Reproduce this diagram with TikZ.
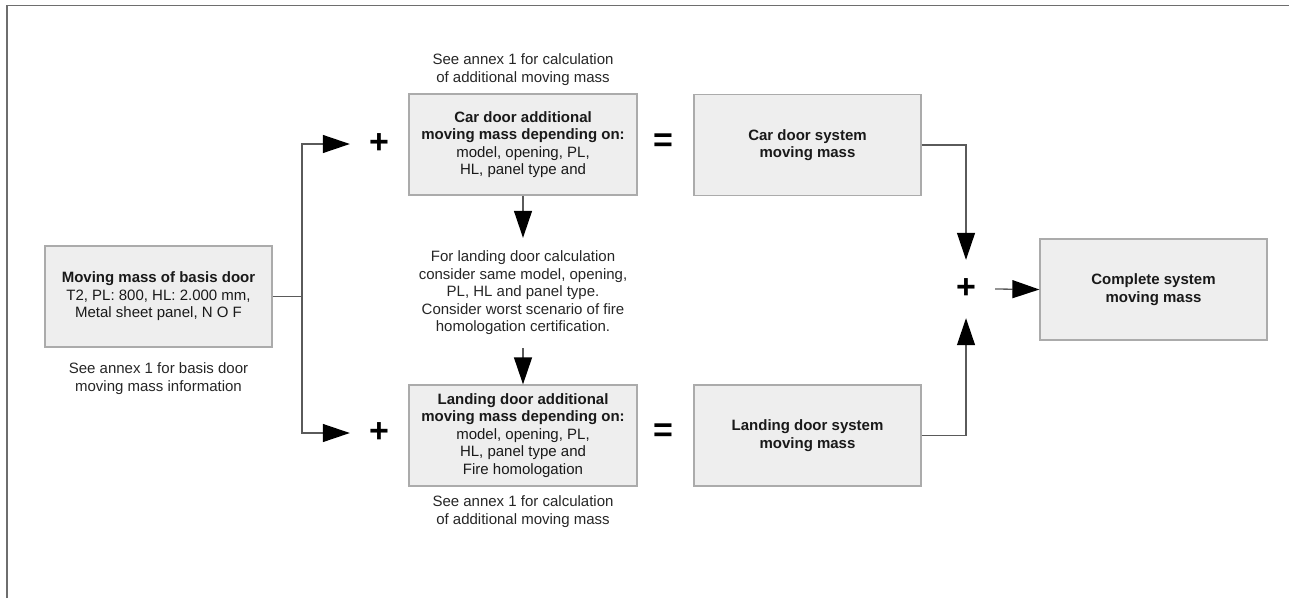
\documentclass[tikz,border=0pt]{standalone}
\usepackage{fontspec}
\setmainfont{Liberation Sans}
\usetikzlibrary{arrows.meta, positioning, calc}
\definecolor{BoxFill}{HTML}{EEEEEE}
\definecolor{BoxLine}{HTML}{ABABAB}
\definecolor{LinkGray}{HTML}{5A5A5A}
\definecolor{FrameGray}{HTML}{6E6E6E}
\tikzset{
  gbox/.style={draw=BoxLine, line width=1.3pt, fill=BoxFill, align=center,
    minimum width=227pt, minimum height=101pt, inner sep=4pt,
    font=\fontsize{15}{17.5}\selectfont, text=black!90},
  note/.style={align=center, inner sep=0pt,
    font=\fontsize{15}{17.5}\selectfont, text=black!85},
  sumsign/.style={inner sep=0pt, minimum size=58pt,
    font=\fontsize{34}{34}\selectfont\bfseries},
  flow/.style={-{Triangle[length=27pt, width=18pt, color=black]}, draw=LinkGray, line width=1.3pt},
  link/.style={draw=LinkGray, line width=1.3pt},
}

\begin{document}
\begin{tikzpicture}[x=1pt, y=-1pt]
    \useasboundingbox (0,0) rectangle (1289,598);
    \draw[FrameGray, line width=1.6pt] (7,598) -- (7,5.5) -- (1289,5.5);

    % boxes
    \node[gbox] (basis) at (158.5,296.5) {\textbf{Moving mass of basis door}\\T2, PL: 800, HL: 2.000 mm,\\Metal sheet panel, N O F};
    \node[gbox, minimum width=228pt] (caradd) at (523,144.5) {\textbf{Car door additional}\\\textbf{moving mass depending on:}\\model, opening, PL,\\HL, panel type and};
    \node[gbox, minimum width=228pt] (landadd) at (523,435.5) {\textbf{Landing door additional}\\\textbf{moving mass depending on:}\\model, opening, PL,\\HL, panel type and\\Fire homologation};
    \node[gbox] (carsys) at (807.5,145) {\textbf{Car door system}\\\textbf{moving mass}};
    \node[gbox] (landsys) at (807.5,435.5) {\textbf{Landing door system}\\\textbf{moving mass}};
    \node[gbox] (complete) at (1153.5,289.5) {\textbf{Complete system}\\\textbf{moving mass}};

    % notes
    \node[note, below=15pt of basis] (basisnote) {See annex 1 for basis door\\moving mass information};
    \node[note, above=8pt of caradd] (carnote) {See annex 1 for calculation\\of additional moving mass};
    \node[note, below=9pt of landadd] (landnote) {See annex 1 for calculation\\of additional moving mass};
    \node[note, inner ysep=13pt] (consider) at (523,293) {For landing door calculation\\consider same model, opening,\\PL, HL and panel type.\\Consider worst scenario of fire\\homologation certification.};

    % signs
    \node[sumsign] (sumA) at (379,144) {+};
    \node[sumsign] (sumB) at (379,433) {+};
    \node[sumsign] (eqA) at (663,143) {=};
    \node[sumsign] (eqB) at (663,433) {=};
    \node[sumsign] (sumR) at (966,289) {+};

    % connectors
    \coordinate (fork) at (302,296.5);
    \draw[link] (basis.east) -- (fork);
    \draw[flow] (fork) |- (sumA.west);
    \draw[flow] (fork) |- (sumB.west);
    \draw[flow] (caradd.south) -- (consider.north);
    \draw[flow] (consider.south) -- (landadd.north);
    \draw[flow] (carsys.east) -| (sumR.north);
    \draw[flow] (landsys.east) -| (sumR.south);
    \draw[flow] (sumR.east) -- (complete.west);
\end{tikzpicture}
\end{document}
